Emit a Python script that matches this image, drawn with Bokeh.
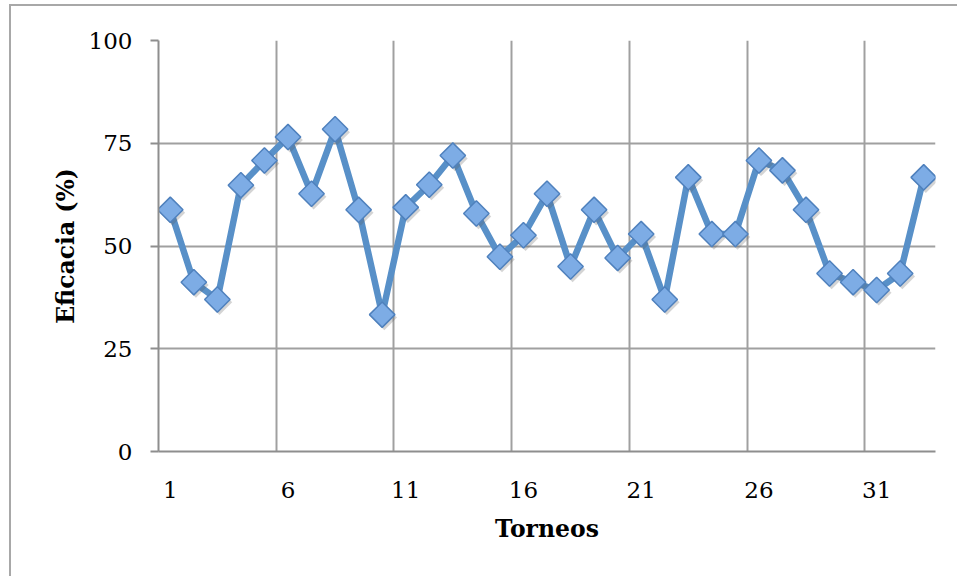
from bokeh.plotting import figure
from bokeh.models import FixedTicker, ColumnDataSource
from bokeh.transform import dodge
from bokeh.embed import file_html
from bokeh.resources import INLINE
import math

# ---- data ----
torneos = list(range(1, 34))
eficacia = [58.8, 41.2, 37.0, 64.8, 70.8, 76.5, 62.7, 78.4, 58.8, 33.3,
            59.4, 64.9, 72.0, 57.9, 47.4, 52.6, 62.7, 45.0, 58.8, 47.1,
            52.9, 37.0, 66.7, 52.9, 52.9, 70.8, 68.4, 58.8, 43.3, 41.2,
            39.3, 43.3, 66.7]
x_tick_values = [1, 6, 11, 16, 21, 26, 31]
x_grid_values = [5.5, 10.5, 15.5, 20.5, 25.5, 30.5]
y_tick_values = [0, 25, 50, 75, 100]
x_title = "Torneos"
y_title = "Eficacia (%)"

src = ColumnDataSource(dict(x=torneos, y=eficacia))

p = figure(frame_width=777, frame_height=411,
           min_border_left=147, min_border_top=34,
           min_border_right=22, min_border_bottom=125,
           x_range=(0.5, 33.5), y_range=(0, 100),
           output_backend="svg", toolbar_location=None,
           background_fill_color="white", border_fill_color="white")
p.outline_line_color = None
# outer chart frame (left and top edges), as in the source document
p.styles = {"border-left": "2px solid #A8A8A8", "border-top": "2px solid #A8A8A8",
            "margin-left": "9px", "margin-top": "4px"}

GRID = "#A0A0A0"
p.xgrid.ticker = FixedTicker(ticks=x_grid_values)
p.ygrid.ticker = FixedTicker(ticks=y_tick_values)
for g in (p.xgrid, p.ygrid):
    g.grid_line_color = GRID
    g.grid_line_width = 2

p.xaxis.ticker = FixedTicker(ticks=x_tick_values)
p.yaxis.ticker = FixedTicker(ticks=y_tick_values)
for ax in (p.xaxis, p.yaxis):
    ax.axis_line_color = "#8E8E8E"
    ax.axis_line_width = 2
    ax.major_tick_line_color = "#8E8E8E"
    ax.major_tick_line_width = 2
    ax.minor_tick_line_color = None
    ax.major_label_text_font = "DejaVu Serif"
    ax.major_label_text_font_size = "23px"
    ax.major_label_text_color = "black"
    ax.axis_label_text_font = "DejaVu Serif"
    ax.axis_label_text_font_size = "23.5px"
    ax.axis_label_text_font_style = "bold"
    ax.axis_label_text_color = "black"
p.xaxis.major_tick_out = 0
p.xaxis.major_tick_in = 0
p.yaxis.major_tick_out = 8
p.yaxis.major_tick_in = 0
p.xaxis.major_label_standoff = 30
p.yaxis.major_label_standoff = 18
p.xaxis.axis_label = x_title
p.yaxis.axis_label = y_title
p.xaxis.axis_label_standoff = 14
p.yaxis.axis_label_standoff = 6

p.line("x", "y", source=src, line_color="#5890C8", line_width=6.5, line_join="round")
p.scatter(dodge("x", 0.09, range=p.x_range), dodge("y", -0.7, range=p.y_range), source=src,
          marker="square", size=18, angle=math.pi / 4,
          fill_color="#555555", fill_alpha=0.25, line_color=None)
p.scatter("x", "y", source=src, marker="square", size=18, angle=math.pi / 4,
          fill_color="#7DACE5", line_color="#4F81BD", line_width=1.5)

open("out.html", "w").write(file_html(p, INLINE))
